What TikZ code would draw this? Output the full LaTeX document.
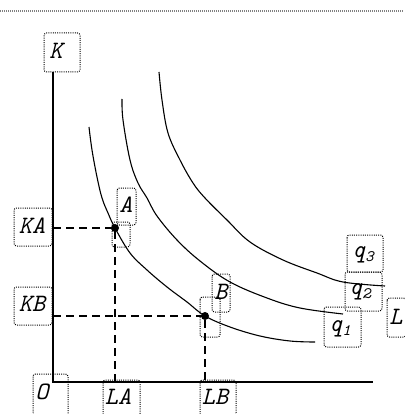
\documentclass[tikz,border=0pt]{standalone}
\tikzset{
  lbl/.style={inner sep=0pt, font=\fontsize{25}{25}\selectfont\ttfamily\itshape},
  dbox/.style={draw=black, line width=1pt, dash pattern=on 1pt off 1.2pt, rounded corners=2.5pt},
  axis/.style={line width=1.8pt},
  curve/.style={line width=1.1pt, line join=round},
  guide/.style={line width=1.4pt, dash pattern=on 8pt off 5pt},
  pt/.style={circle, fill=black, inner sep=0pt, minimum size=8pt},
}
\newcommand{\sbs}[1]{\raisebox{-4pt}{\fontsize{16}{16}\selectfont #1}}
\begin{document}
\begin{tikzpicture}[x=1pt,y=-1pt]
\useasboundingbox (0,0) rectangle (404,414);
% top dotted rule
\draw[gray, line width=2pt, dash pattern=on 1pt off 1pt] (0,11) -- (404,11);

% axes
\coordinate (O) at (53,382);
\coordinate (ytop) at (53,72);
\coordinate (xend) at (373,382);
\draw[axis] (ytop) -- (O) -- (xend);

% curves
\draw[curve] plot[smooth, tension=0.6] coordinates {(89,127) (92,150) (97,177) (102,198) (108,213) (115,228) (130,253) (147,270) (167,287) (187,302) (205,316) (230,327) (260,336) (290,341) (315,342)};
\draw[curve] plot[smooth, tension=0.6] coordinates {(122,99) (123,120) (130,160) (138,183) (147,198) (157,216) (177,240) (200,261) (230,282) (267,298) (300,308) (343,314)};
\draw[curve] plot[smooth, tension=0.6] coordinates {(159,72) (162,100) (168,133) (180,160) (193,183) (205,198) (227,220) (250,242) (283,260) (317,273) (343,282) (385,286)};

% points
\node[pt] (A) at (115,228) {};
\node[pt] (B) at (205,316) {};

% label boxes
\draw[dbox] (44,33) rectangle (80,72);
\draw[dbox] (14,208) rectangle (52,246);
\draw[dbox] (14,287) rectangle (52,325);
\draw[dbox] (33,374) rectangle (68,416);
\draw[dbox] (103,380) rectangle (140,416);
\draw[dbox] (200,380) rectangle (236,416);
\draw[dbox] (117,188) rectangle (136,225);
\draw[dbox] (112,222) rectangle (130,247);
\draw[dbox] (212,274) rectangle (230,312);
\draw[dbox] (200,297) rectangle (220,337);
\draw[dbox] (347,235) rectangle (383,272);
\draw[dbox] (345,272) rectangle (382,311);
\draw[dbox] (324,307) rectangle (361,347);
\draw[dbox] (387,298) rectangle (406,337);

% labels
\node[lbl] (K) at (56,51) {K};
\node[lbl] (KA) at (32,226) {KA};
\node[lbl] (KB) at (32,304) {KB};
\node[lbl] (Olbl) at (42,392) {O};
\node[lbl] (LA) at (118,397) {LA};
\node[lbl] (LB) at (215,397) {LB};
\node[lbl] (Albl) at (126,205) {A};
\node[lbl] (Blbl) at (221,292) {B};
\node[lbl] (q3) at (363,255) {q\sbs{3}};
\node[lbl] (q2) at (360,292) {q\sbs{2}};
\node[lbl] (q1) at (340,329) {q\sbs{1}};
\node[lbl] (L) at (396,317) {L};

% guide lines
\coordinate (kaend) at (53,228);
\coordinate (kbend) at (53,316);
\coordinate (laend) at (115,382);
\coordinate (lbend) at (205,382);
\draw[guide] (kaend) -- (A.center) -- (laend);
\draw[guide] (kbend) -- (B.center) -- (lbend);
\end{tikzpicture}
\end{document}
